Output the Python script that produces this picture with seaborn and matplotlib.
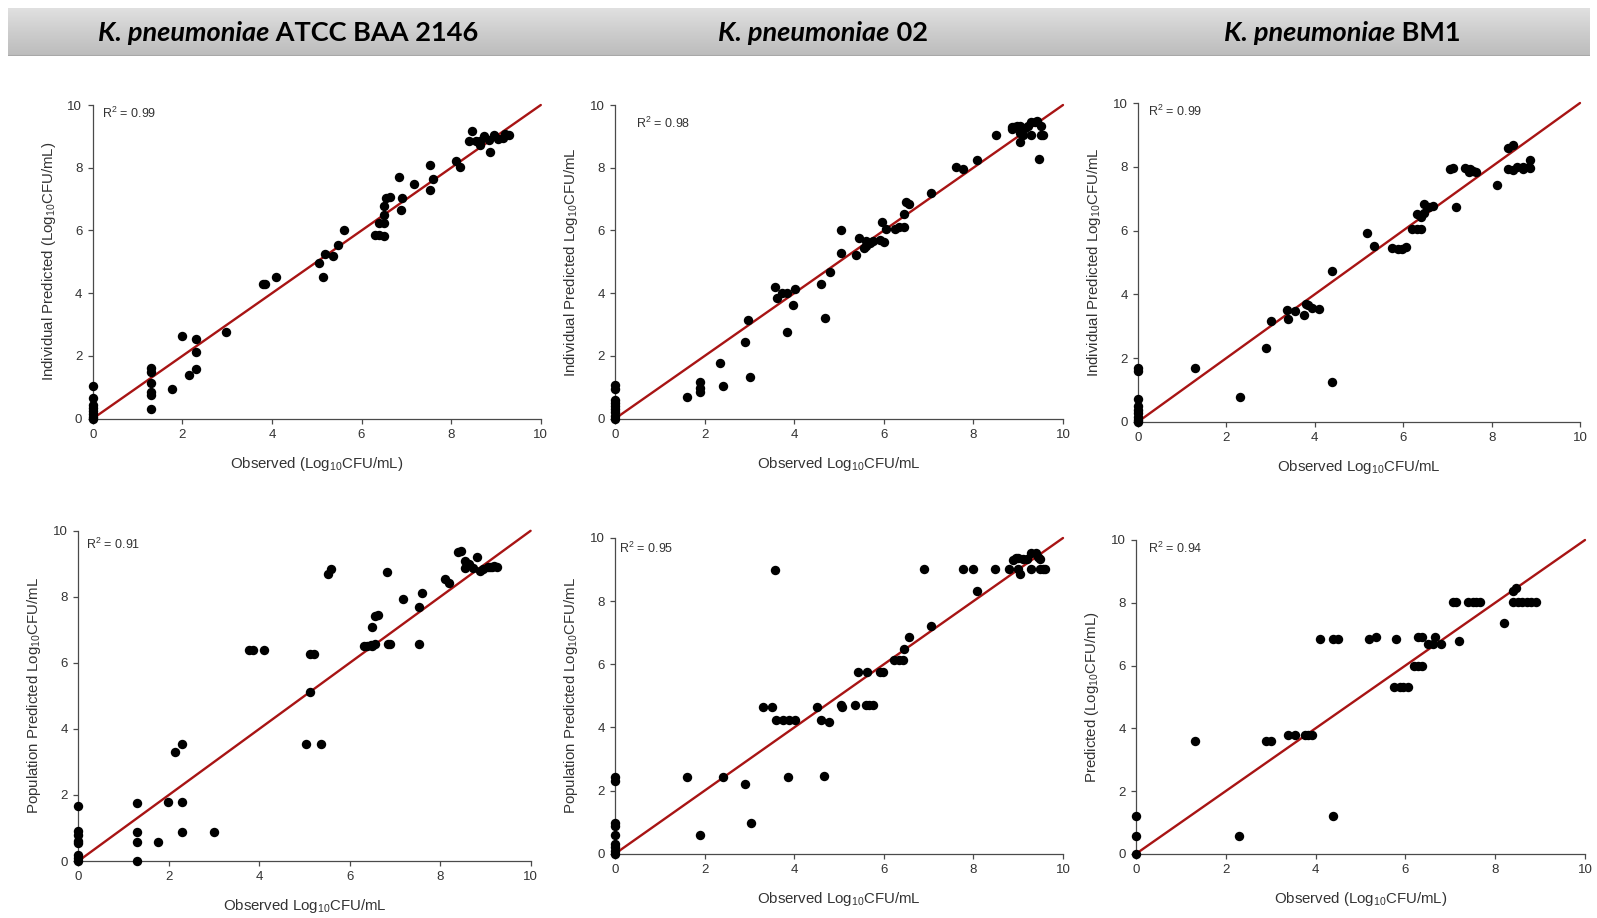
import numpy as np
import pandas as pd
import matplotlib
matplotlib.use("Agg")
import matplotlib.pyplot as plt
import seaborn as sns
from matplotlib.colors import LinearSegmentedColormap

# ---------------- data ----------------
strains = ["ATCC BAA 2146", "02", "BM1"]
species = "K. pneumoniae"
r2_values = ["0.99", "0.98", "0.99", "0.91", "0.95", "0.94"]
identity = [0, 10]
ticks = [0, 2, 4, 6, 8, 10]

xlabels = [r"Observed (Log$_{10}$CFU/mL)", r"Observed Log$_{10}$CFU/mL", r"Observed Log$_{10}$CFU/mL",
           r"Observed Log$_{10}$CFU/mL", r"Observed Log$_{10}$CFU/mL", r"Observed (Log$_{10}$CFU/mL)"]
ylabels = [r"Individual Predicted (Log$_{10}$CFU/mL)", r"Individual Predicted Log$_{10}$CFU/mL",
           r"Individual Predicted Log$_{10}$CFU/mL", r"Population Predicted Log$_{10}$CFU/mL",
           r"Population Predicted Log$_{10}$CFU/mL", r"Predicted (Log$_{10}$CFU/mL)"]

# Panel 1: individual, ATCC BAA 2146
obs_1 = [0, 0, 0, 0, 0, 0, 0, 0,
         1.3, 1.3, 1.3, 1.3, 1.3, 1.3,
         1.77, 1.99, 2.15, 2.3, 2.3, 2.3, 2.98, 3.79, 3.85, 4.1, 5.04, 5.14, 5.19, 5.37, 5.48, 5.6,
         6.3, 6.4, 6.4, 6.5, 6.5, 6.5, 6.5, 6.55, 6.64, 6.83, 6.87, 6.9, 7.18, 7.53, 7.53, 7.59,
         8.1, 8.19, 8.39, 8.46, 8.55, 8.65, 8.65, 8.73, 8.85, 8.87, 8.95, 9.05, 9.15, 9.2, 9.28]
pred_1 = [1.03, 0.67, 0.45, 0.35, 0.25, 0.15, 0.05, 0.0,
          1.62, 1.48, 1.15, 0.85, 0.75, 0.3,
          0.95, 2.65, 1.38, 2.54, 2.12, 1.59, 2.75, 4.29, 4.3, 4.51, 4.95, 4.53, 5.24, 5.19, 5.53, 6.0,
          5.85, 6.24, 5.85, 5.82, 6.24, 6.5, 6.77, 7.04, 7.07, 7.69, 6.64, 7.02, 7.49, 8.08, 7.29, 7.65,
          8.21, 8.01, 8.84, 9.17, 8.86, 8.71, 8.86, 9.02, 8.89, 8.5, 9.05, 8.92, 8.96, 9.08, 9.03]

# Panel 2: individual, 02
obs_2 = [0, 0, 0, 0, 0, 0, 0, 0, 0,
         1.61, 1.89, 1.89, 1.89, 2.34, 2.42, 2.9, 2.97, 3.02, 3.58, 3.62, 3.73, 3.85, 3.85, 3.98, 4.02,
         4.6, 4.68, 4.79, 5.05, 5.05, 5.37, 5.44, 5.55, 5.61, 5.61, 5.69, 5.77, 5.92, 5.97, 6.01, 6.05,
         6.25, 6.35, 6.44, 6.44, 6.5, 6.57, 7.06, 7.61, 7.76, 8.08, 8.5, 8.86, 8.86, 8.91, 8.97, 9.03,
         9.05, 9.05, 9.1, 9.15, 9.22, 9.29, 9.29, 9.37, 9.42, 9.46, 9.5, 9.5, 9.56]
pred_2 = [1.07, 0.95, 0.6, 0.5, 0.4, 0.3, 0.2, 0.1, 0.0,
          0.69, 1.16, 0.97, 0.85, 1.78, 1.04, 2.46, 3.15, 1.32, 4.19, 3.85, 4.02, 4.02, 2.75, 3.64, 4.13,
          4.3, 3.2, 4.68, 6.0, 5.28, 5.22, 5.76, 5.45, 5.65, 5.5, 5.6, 5.65, 5.71, 6.26, 5.64, 6.05,
          6.05, 6.1, 6.1, 6.51, 6.91, 6.83, 7.19, 8.03, 7.97, 8.25, 9.04, 9.31, 9.23, 9.31, 9.34, 9.1,
          9.34, 8.81, 9.03, 9.28, 9.34, 9.45, 9.05, 9.45, 9.5, 8.29, 9.34, 9.05, 9.05]

# Panel 3: individual, BM1
obs_3 = [0, 0, 0, 0, 0, 0, 0, 0, 0,
         1.29, 2.3, 2.89, 3.0, 3.36, 3.39, 3.55, 3.75, 3.8, 3.85, 3.94, 4.09, 4.39, 4.39,
         5.18, 5.35, 5.75, 5.89, 5.97, 6.06, 6.2, 6.32, 6.32, 6.4, 6.4, 6.47, 6.47, 6.59, 6.67,
         7.05, 7.12, 7.19, 7.39, 7.48, 7.52, 7.58, 7.64, 8.12, 8.37, 8.37, 8.49, 8.49, 8.57,
         8.72, 8.72, 8.84, 8.88, 8.88]
pred_3 = [1.7, 1.58, 0.7, 0.5, 0.38, 0.27, 0.15, 0.05, 0.0,
          1.69, 0.77, 2.31, 3.15, 3.52, 3.22, 3.49, 3.34, 3.7, 3.65, 3.57, 3.54, 4.72, 1.24,
          5.93, 5.51, 5.44, 5.43, 5.43, 5.48, 6.05, 6.05, 6.53, 6.05, 6.43, 6.82, 6.56, 6.74, 6.77,
          7.94, 7.97, 6.74, 7.97, 7.82, 7.94, 7.87, 7.82, 7.43, 8.6, 7.94, 8.69, 7.9, 7.99,
          7.92, 8.0, 8.0, 8.2, 7.95]

# Panel 4: population, ATCC BAA 2146
obs_4 = [0, 0, 0, 0, 0, 0, 0, 0,
         1.3, 1.3, 1.3, 1.3,
         1.77, 1.99, 2.14, 2.29, 2.29, 2.29, 2.99, 3.78, 3.86, 4.11, 5.04, 5.13, 5.13, 5.2, 5.36,
         5.51, 5.59, 6.31, 6.38, 6.46, 6.5, 6.5, 6.55, 6.55, 6.63, 6.82, 6.85, 6.9, 7.17, 7.54,
         7.54, 7.6, 8.1, 8.2, 8.4, 8.47, 8.54, 8.54, 8.64, 8.72, 8.81, 8.88, 8.95, 9.05, 9.1,
         9.15, 9.2, 9.25]
pred_4 = [1.68, 0.9, 0.8, 0.6, 0.55, 0.18, 0.1, 0.0,
          1.77, 0.89, 0.59, 0.0,
          0.59, 1.78, 3.31, 3.55, 1.78, 0.89, 0.89, 6.4, 6.4, 6.4, 3.55, 5.13, 6.26, 6.26, 3.55,
          8.68, 8.85, 6.5, 6.5, 6.55, 7.08, 6.5, 6.58, 7.43, 7.45, 8.75, 6.58, 6.58, 7.92, 7.7,
          6.58, 8.12, 8.53, 8.43, 9.36, 9.39, 9.09, 8.88, 8.98, 8.88, 9.21, 8.78, 8.83, 8.9, 8.91,
          8.9, 8.92, 8.91]

# Panel 5: population, 02
obs_5 = [0, 0, 0, 0, 0, 0, 0, 0, 0,
         1.61, 1.9, 2.41, 2.9, 3.03, 3.3, 3.5, 3.58, 3.6, 3.75, 3.88, 3.87, 4.01, 4.51, 4.6, 4.67,
         4.77, 5.04, 5.06, 5.36, 5.43, 5.6, 5.63, 5.66, 5.75, 5.92, 5.98, 6.23, 6.33, 6.42, 6.45,
         6.57, 6.9, 7.05, 7.76, 8.0, 8.08, 8.49, 8.79, 8.89, 8.95, 9.0, 9.0, 9.05, 9.1, 9.2, 9.29,
         9.29, 9.39, 9.45, 9.49, 9.49, 9.55, 9.59]
pred_5 = [2.44, 2.3, 0.96, 0.88, 0.6, 0.3, 0.2, 0.1, 0.0,
          2.44, 0.6, 2.44, 2.2, 0.98, 4.65, 4.65, 9.0, 4.25, 4.25, 4.25, 2.44, 4.25, 4.65, 4.25, 2.47,
          4.17, 4.7, 4.64, 4.7, 5.75, 4.7, 5.75, 4.7, 4.7, 5.75, 5.75, 6.13, 6.13, 6.13, 6.5,
          6.87, 9.01, 7.22, 9.01, 9.01, 8.31, 9.02, 9.01, 9.29, 9.36, 9.02, 9.36, 8.86, 9.34, 9.34, 9.52,
          9.02, 9.52, 9.39, 9.02, 9.34, 9.02, 9.02]

# Panel 6: population, BM1
obs_6 = [0, 0, 0,
         1.31, 2.3, 2.89, 3.0, 3.39, 3.55, 3.76, 3.84, 3.93, 4.1, 4.39, 4.39, 4.5, 5.18, 5.34,
         5.8, 5.75, 5.87, 5.95, 6.05, 6.2, 6.28, 6.37, 6.29, 6.37, 6.51, 6.62, 6.66, 6.79,
         7.05, 7.13, 7.19, 7.4, 7.5, 7.57, 7.66, 8.2, 8.39, 8.46, 8.39, 8.5, 8.6, 8.7, 8.8, 8.9]
pred_6 = [1.19, 0.57, 0.0,
          3.6, 0.57, 3.6, 3.6, 3.78, 3.78, 3.78, 3.78, 3.78, 6.85, 6.85, 1.19, 6.85, 6.83, 6.9,
          6.83, 5.3, 5.3, 5.3, 5.3, 5.97, 5.97, 5.97, 6.9, 6.9, 6.67, 6.67, 6.9, 6.67,
          8.02, 8.02, 6.77, 8.02, 8.02, 8.02, 8.02, 7.36, 8.37, 8.46, 8.02, 8.02, 8.02, 8.02, 8.02, 8.02]

observed = [obs_1, obs_2, obs_3, obs_4, obs_5, obs_6]
predicted = [pred_1, pred_2, pred_3, pred_4, pred_5, pred_6]

# ---------------- style ----------------
sns.set_theme(style="white")
plt.rcParams["font.family"] = ["Liberation Sans", "DejaVu Sans"]
plt.rcParams["mathtext.fontset"] = "custom"
plt.rcParams["mathtext.rm"] = "Liberation Sans"
plt.rcParams["mathtext.it"] = "Liberation Sans:italic"
plt.rcParams["mathtext.bf"] = "Liberation Sans:bold"

W, H = 1597, 918
fig = plt.figure(figsize=(W / 100, H / 100), dpi=100)

# axes boxes in pixels: (left, top, right, bottom)
boxes = [(92.7, 105, 540.8, 418.7), (615, 105, 1063, 418.7), (1138, 103, 1580, 421.8),
         (78.4, 530.8, 530.6, 861), (615, 538, 1063, 853.8), (1136, 540, 1585, 853.8)]
r2_pos = [(0.2, 9.72), (0.46, 9.42), (0.23, 9.75), (0.16, 9.6), (0.08, 9.68), (0.26, 9.73)]

spine_col = "#4a4a4a"
for i, (l, t, r, b) in enumerate(boxes):
    ax = fig.add_axes([l / W, 1 - b / H, (r - l) / W, (b - t) / H])
    df = pd.DataFrame({"obs": observed[i], "pred": predicted[i]})
    ax.plot(identity, identity, color="#a81414", lw=1.7, zorder=2, clip_on=False)
    sns.scatterplot(data=df, x="obs", y="pred", ax=ax, color="black", s=46,
                    edgecolor="black", linewidth=0, zorder=3, clip_on=False)
    ax.set_xlim(0, 10)
    ax.set_ylim(0, 10)
    ax.set_xticks(ticks)
    ax.set_yticks(ticks)
    for side in ["top", "right"]:
        ax.spines[side].set_visible(False)
    for side in ["left", "bottom"]:
        ax.spines[side].set_color(spine_col)
        ax.spines[side].set_linewidth(0.9)
    ax.tick_params(axis="both", direction="out", length=3.5, width=0.9, color=spine_col,
                   labelsize=9.5, labelcolor="#333333", pad=4, bottom=True, left=True)
    ax.set_xlabel(xlabels[i], fontsize=10.8, color="#333333", labelpad=10)
    ax.set_ylabel(ylabels[i], fontsize=10.8, color="#333333", labelpad=7)
    ax.text(r2_pos[i][0], r2_pos[i][1], r"R$^2$ = " + r2_values[i], fontsize=9,
            color="#333333", ha="left", va="center")

# ---------------- header band ----------------
hax = fig.add_axes([8 / W, 1 - 56 / H, (1590 - 8) / W, 48 / H])
grad = np.linspace(0, 1, 64).reshape(-1, 1)
cmap = LinearSegmentedColormap.from_list("band", ["#e0e0e0", "#cdcdcd", "#bcbcbc"])
hax.imshow(grad, aspect="auto", cmap=cmap, extent=[0, 1, 0, 1], origin="upper")
hax.axhline(0.0, color="#a8a8a8", lw=1.5)
hax.set_axis_off()

fig.canvas.draw()
renderer = fig.canvas.get_renderer()
centers = [288, 823, 1342]
title_font = ["Lato", "Open Sans", "DejaVu Sans"]
for cx, strain in zip(centers, strains):
    t1 = fig.text(0, 1 - 33 / H, species, fontsize=19.5, fontweight="bold", fontstyle="italic",
                  family=title_font, ha="left", va="center", color="black")
    t2 = fig.text(0, 1 - 33 / H, "\u00a0" + strain, fontsize=19.5, fontweight="bold",
                  family=title_font, ha="left", va="center", color="black")
    w1 = t1.get_window_extent(renderer).width
    w2 = t2.get_window_extent(renderer).width
    x0 = cx - (w1 + w2) / 2
    t1.set_x(x0 / W)
    t2.set_x((x0 + w1) / W)

fig.savefig("out.png", dpi=100)
